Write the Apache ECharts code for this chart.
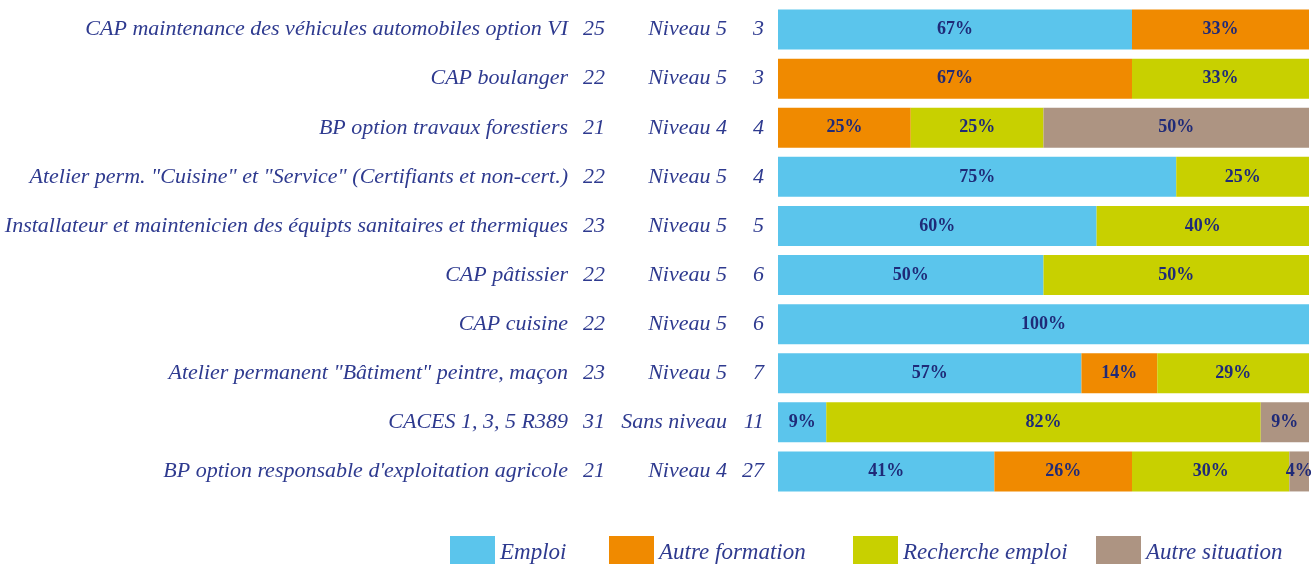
<!DOCTYPE html>
<html>
<head>
<meta charset="utf-8">
<script src="https://cdn.jsdelivr.net/npm/echarts@6/dist/echarts.min.js"></script>
<style>
html, body { margin: 0; padding: 0; background: #fff; }
#chart { width: 1312px; height: 564px; }
</style>
</head>
<body>
<div id="chart"></div>
<script>
// formations (de haut en bas)
var formations = [
	'CAP maintenance des véhicules automobiles option VI',
	'CAP boulanger',
	'BP option travaux forestiers',
	'Atelier perm. "Cuisine" et "Service" (Certifiants et non-cert.)',
	'Installateur et maintenicien des équipts sanitaires et thermiques',
	'CAP pâtissier',
	'CAP cuisine',
	'Atelier permanent "Bâtiment" peintre, maçon',
	'CACES 1, 3, 5 R389',
	"BP option responsable d'exploitation agricole"
];
var ages = [25, 22, 21, 22, 23, 22, 22, 23, 31, 21];
var niveaux = ['Niveau 5', 'Niveau 5', 'Niveau 4', 'Niveau 5', 'Niveau 5', 'Niveau 5', 'Niveau 5', 'Niveau 5', 'Sans niveau', 'Niveau 4'];
var effectifs = [3, 3, 4, 4, 5, 6, 6, 7, 11, 27];

// nombre de stagiaires par situation
var emploi = [2, 0, 0, 3, 3, 3, 6, 4, 1, 11];
var autreFormation = [1, 2, 1, 0, 0, 0, 0, 1, 0, 7];
var rechercheEmploi = [0, 1, 1, 1, 2, 3, 0, 2, 9, 8];
var autreSituation = [0, 0, 2, 0, 0, 0, 0, 0, 1, 1];

var seriesNames = ['Emploi', 'Autre formation', 'Recherche emploi', 'Autre situation'];
var colors = ['#5bc5ec', '#f08a00', '#c8d000', '#ad9482'];

var textColor = '#2e3a8f';
var fontSerif = '"Liberation Serif", "DejaVu Serif", serif';

function pct(ary) {
	var out = [];
	for (var i = 0; i < ary.length; i++) {
		out.push(ary[i] / effectifs[i] * 100);
	}
	return out;
}

var allData = [emploi, autreFormation, rechercheEmploi, autreSituation];
var series = [];
for (var s = 0; s < seriesNames.length; s++) {
	series.push({
		name: seriesNames[s],
		type: 'bar',
		stack: 'total',
		barWidth: 40,
		data: pct(allData[s]),
		itemStyle: { color: colors[s] },
		label: {
			show: true,
			position: 'inside',
			color: '#1f2a78',
			fontFamily: fontSerif,
			fontWeight: 'bold',
			fontSize: 18,
			formatter: function(p) {
				return p.value > 0 ? Math.round(p.value) + '%' : '';
			}
		}
	});
}

var legendLeft = [450, 609, 853, 1096];
var legends = [];
for (var k = 0; k < seriesNames.length; k++) {
	legends.push({
		data: [seriesNames[k]],
		left: legendLeft[k],
		top: 536,
		padding: 0,
		itemWidth: 45,
		itemHeight: 34,
		itemGap: 0,
		itemTextGap: 6,
		icon: 'rect',
		selectedMode: false,
		textStyle: {
			color: textColor,
			fontFamily: fontSerif,
			fontStyle: 'italic',
			fontSize: 23
		}
	});
}

var labelStyle = {
	fontFamily: fontSerif,
	fontStyle: 'italic',
	fontSize: 22,
	color: textColor,
	align: 'right'
};

var myChart = echarts.init(document.getElementById('chart'));
var option = {
	animation: false,
	legend: legends,
	grid: {
		left: 778,
		right: 3,
		top: 5,
		bottom: 68,
		outerBoundsMode: 'none'
	},
	xAxis: {
		type: 'value',
		min: 0,
		max: 100,
		show: false
	},
	yAxis: {
		type: 'category',
		inverse: true,
		data: formations,
		axisLine: { show: false },
		axisTick: { show: false },
		axisLabel: {
			margin: 14,
			interval: 0,
			formatter: function(value, idx) {
				return '{n|' + value + '}{a|' + ages[idx] + '}{l|' + niveaux[idx] + '}{c|' + effectifs[idx] + '}';
			},
			rich: {
				n: labelStyle,
				a: Object.assign({}, labelStyle, { width: 37 }),
				l: Object.assign({}, labelStyle, { width: 122 }),
				c: Object.assign({}, labelStyle, { width: 37 })
			}
		}
	},
	series: series
};

myChart.setOption(option);
</script>
</body>
</html>
